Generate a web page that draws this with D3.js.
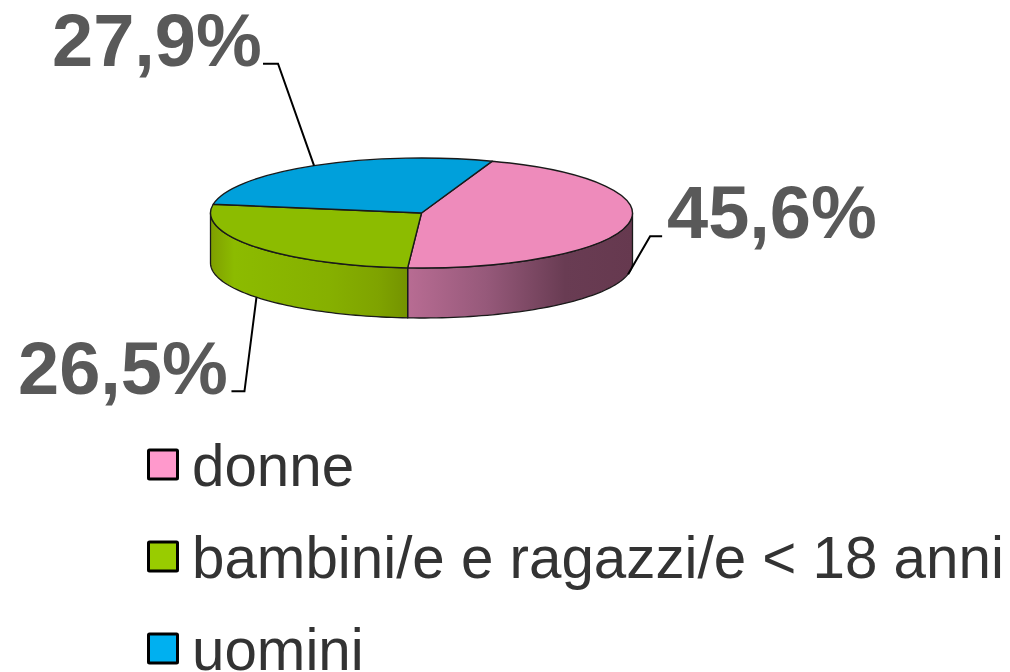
<!DOCTYPE html>
<html><head><meta charset="utf-8">
<script src="https://cdn.jsdelivr.net/npm/d3@7"></script>
<style>html,body{margin:0;padding:0;background:#fff}svg{display:block}text{font-family:"Liberation Sans",Arial,sans-serif}</style>
</head><body><svg id="c" width="1010" height="672"></svg>
<script>
const categories = ["donne","bambini/e e ragazzi/e < 18 anni","uomini"];
const values = [45.6,26.5,27.9];
const labels = ["45,6%","26,5%","27,9%"];
const topColors = ["#ee8bbb","#8cbc00","#00a0db"];
const legendColors = ["#ff99cc","#99cc00","#00b0f0"];
const wallStops = [
  [[0,"#b86c93"],[0.35,"#96597a"],[0.7,"#693c53"],[1,"#66394f"]],
  [[0,"#7f9f00"],[0.12,"#8cbb00"],[0.6,"#86b000"],[0.85,"#7fa300"],[1,"#749300"]],
  [[0,"#00a0db"],[1,"#00a0db"]]
];
const svg = d3.select("#c");
const cx=421.5, cy=213, rx=211, ry=55, depth=50, startDeg=19.6;
const start=startDeg*Math.PI/180;
const pie=d3.pie().sort(null).startAngle(start).endAngle(start+2*Math.PI).value(d=>d);
const arcs=pie(values);
const px=a=>cx+rx*Math.sin(a), py=a=>cy-ry*Math.cos(a);
const defs=svg.append("defs");

const line=d3.line().x(d=>d[0]).y(d=>d[1]);
arcs.forEach((d,i)=>{
  const a0=Math.max(d.startAngle,Math.PI/2), a1=Math.min(d.endAngle,1.5*Math.PI);
  if(a1<=a0) return;
  const angs=d3.range(0,61).map(k=>a0+(a1-a0)*k/60);
  const top=angs.map(a=>[px(a),py(a)]);
  const bottom=angs.slice().reverse().map(a=>[px(a),py(a)+depth]);
  const id="wall"+i;
  const xs=top.map(p=>p[0]);
  const g=defs.append("linearGradient").attr("id",id).attr("gradientUnits","userSpaceOnUse")
    .attr("x1",d3.min(xs)).attr("x2",d3.max(xs)).attr("y1",0).attr("y2",0);
  wallStops[i].forEach(s=>g.append("stop").attr("offset",s[0]).attr("stop-color",s[1]));
  svg.append("path").attr("d",line(top.concat(bottom))+"Z").attr("fill",`url(#${id})`)
    .attr("stroke","#1a1a1a").attr("stroke-width",1.3).attr("stroke-linejoin","round");
});

const arc=d3.arc().innerRadius(0).outerRadius(rx);
const topG=svg.append("g").attr("transform",`translate(${cx},${cy}) scale(1,${ry/rx})`);
topG.selectAll("path").data(arcs).join("path").attr("d",arc)
  .attr("fill",(d,i)=>topColors[i]).attr("stroke","#1a1a1a").attr("stroke-width",1.4)
  .attr("vector-effect","non-scaling-stroke").attr("stroke-linejoin","round");

const leaders=[{dy:depth,ex:[22,-38],tx:[12,0]},{dy:depth,ex:[-12,94],tx:[-13,0]},{dy:0,ex:[-36,-102],tx:[-15,0]}];
arcs.forEach((d,i)=>{
  const m=(d.startAngle+d.endAngle)/2, l=leaders[i];
  const x0=px(m), y0=py(m)+l.dy;
  const x1=x0+l.ex[0], y1=y0+l.ex[1];
  svg.append("path").attr("d",line([[x0,y0],[x1,y1],[x1+l.tx[0],y1+l.tx[1]]]))
    .attr("fill","none").attr("stroke","#000").attr("stroke-width",2);
});

const labelPos=[[667,238],[18,394],[52,66]];
svg.selectAll("text.v").data(labels).join("text").attr("class","v")
  .attr("x",(d,i)=>labelPos[i][0]).attr("y",(d,i)=>labelPos[i][1])
  .attr("font-size",74).attr("font-weight","bold").attr("fill","#595959").text(d=>d);

const ly=d3.scalePoint().domain(categories).range([465,649]);
const lg=svg.selectAll("g.l").data(categories).join("g").attr("class","l")
  .attr("transform",d=>`translate(0,${ly(d)})`);
lg.append("rect").attr("x",148.5).attr("y",-15).attr("width",29).attr("height",29)
  .attr("fill",(d,i)=>legendColors[i]).attr("stroke","#000").attr("stroke-width",3).attr("rx",1);
lg.append("text").attr("x",192).attr("y",21).attr("font-size",58.3).attr("fill","#333").text(d=>d);
</script></body></html>
